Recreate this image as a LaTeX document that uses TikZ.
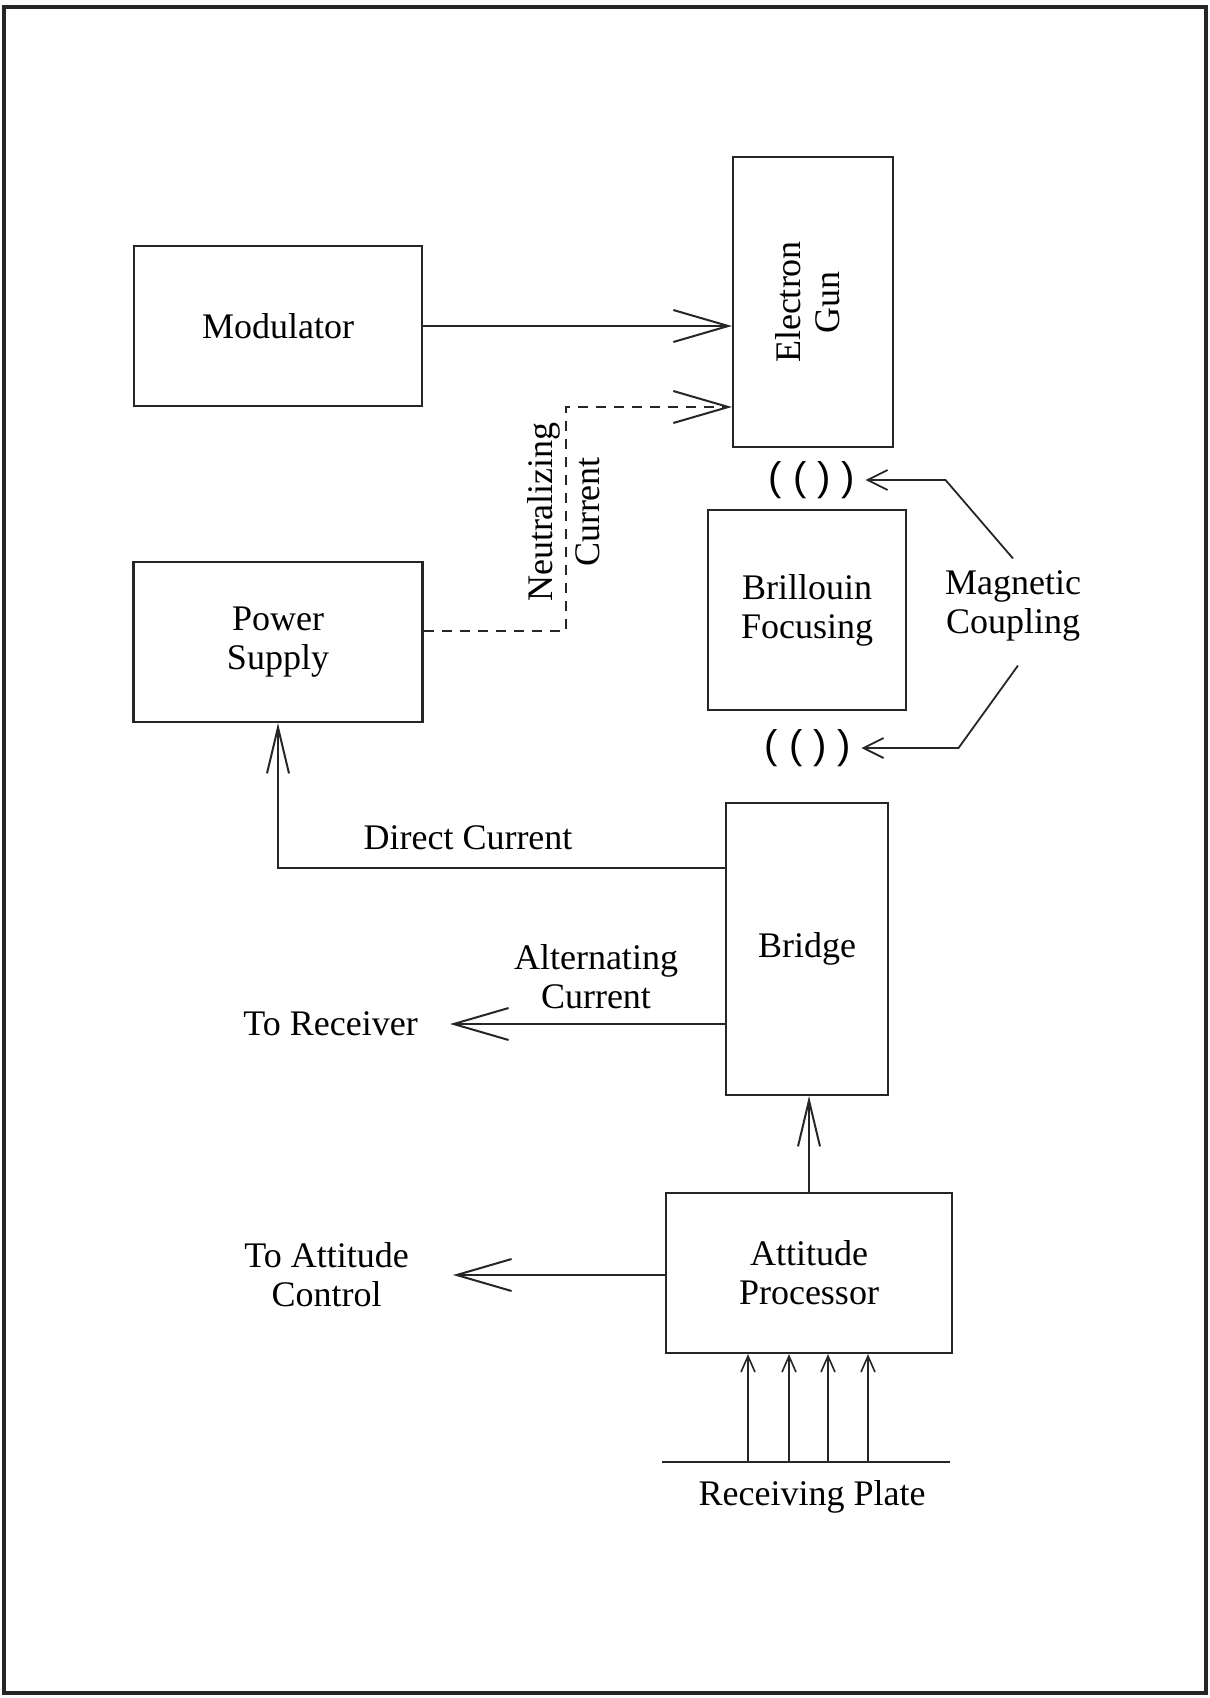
\documentclass[tikz,border=0pt]{standalone}
\usepackage{fontspec}
\setmainfont{Liberation Serif}
\setsansfont{Liberation Sans}
\usetikzlibrary{arrows.meta,positioning}

\begin{document}
\begin{tikzpicture}[
  x=1pt, y=-1pt,
  font=\fontsize{36}{39}\selectfont,
  node distance=30pt,
  box/.style={
    draw=black!85,
    line width=2.2pt,
    inner sep=0pt,
    align=center
  },
  lbl/.style={inner sep=2pt, align=center},
  coil/.style={font=\sffamily\fontsize{40}{40}\selectfont, inner xsep=10pt, inner ysep=0pt},
  link/.style={line width=2pt, draw=black!85},
  bigarrow/.style={link, -{Straight Barb[length=55pt, width=32pt]}},
  uparrow/.style={link, -{Straight Barb[length=46pt, width=22pt]}},
  smallarrow/.style={link, line width=1.8pt, -{Straight Barb[length=20pt, width=20pt]}},
  tinyarrow/.style={link, line width=1.6pt, -{Straight Barb[length=16pt, width=14pt]}}
]

\useasboundingbox (0,0) rectangle (1210,1698);
\draw[line width=3.5pt, draw=black!85] (4,7) rectangle (1206,1693);

\node[box, minimum width=288pt, minimum height=160pt] (modulator) at (278,326) {Modulator};
\node[box, minimum width=160pt, minimum height=290pt] (gun) at (813,302) {};
\node[lbl, rotate=90] (guntext) at ([xshift=-5pt]gun.center) {Electron\\Gun};
\node[box, minimum width=289pt, minimum height=160pt] (power) at (278,642) {Power\\Supply};
\node[box, minimum width=198pt, minimum height=200pt] (brillouin) at (807,610) {Brillouin\\Focusing};
\node[box, minimum width=162pt, minimum height=292pt] (bridge) at (807,949) {Bridge};
\node[box, minimum width=286pt, minimum height=160pt] (processor) at (809,1273) {Attitude\\Processor};

% coils round the focusing stack
\node[coil] (coiltop) at (812,480) {( ( ) )};
\node[coil] (coilbot) at (808,748) {( ( ) )};
\node[lbl] (magnetic) at (1013,606) {Magnetic\\Coupling};

\node[lbl] (dclabel) at (468,838) {Direct Current};
\node[lbl] (aclabel) at (596,977) {Alternating\\Current};
\node[lbl, rotate=90] (neutral) at (564,512) {Neutralizing\\[8pt]Current};

\coordinate (rcvtip) at (450,1024);
\node[lbl, left=30pt of rcvtip] (receiver) {To Receiver};
\coordinate (atttip) at (453,1275);
\node[lbl, left=42pt of atttip] (attitude) {To Attitude\\Control};

\coordinate (plateL) at (662,1462);
\coordinate (plateR) at (950,1462);
\node[lbl] (platetext) at (812,1497) {Receiving Plate};

\draw[bigarrow] (modulator.east) -- (modulator.east -| gun.west);
\draw[bigarrow, dash pattern=on 10pt off 8pt] ([yshift=11pt]power.east) -- ++(142,0) |- ([yshift=-105pt]gun.west);
\draw[uparrow] ([yshift=81pt]bridge.west) -| (power.south);
\draw[bigarrow] ([yshift=-75pt]bridge.west) -- (rcvtip);
\draw[uparrow] (processor.north) -- (processor.north |- bridge.south);
\draw[bigarrow] (processor.west |- atttip) -- (atttip);
\draw[link] (plateL) -- (plateR);
\foreach \px in {748,789,828,868}
  \draw[tinyarrow] (plateL -| \px,0) -- (processor.south -| \px,0);
\draw[smallarrow] ([yshift=10pt]magnetic.north) -- ([xshift=80pt]coiltop.east) -- (coiltop.east);
\draw[smallarrow] ([xshift=5pt, yshift=-22pt]magnetic.south) -- ([xshift=97pt]coilbot.east) -- (coilbot.east);

\end{tikzpicture}
\end{document}
